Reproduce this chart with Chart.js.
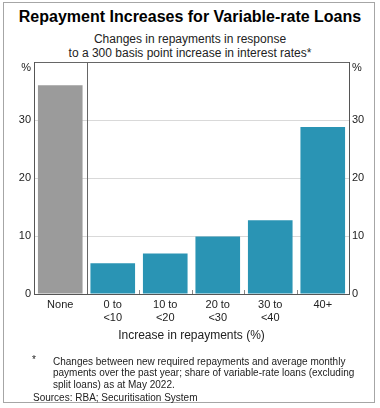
<!DOCTYPE html>
<html>
<head>
<meta charset="utf-8">
<script src="https://cdn.jsdelivr.net/npm/chart.js@4"></script>
<style>
  html, body { margin:0; padding:0; background:#fff; }
  body { width:380px; height:408px; position:relative; overflow:hidden; font-family:"Liberation Sans", Arial, sans-serif; }
  #frame { position:absolute; left:3px; top:2px; width:370px; height:399px; border:1px solid #a6a6a6; }
  canvas { position:absolute; left:0; top:0; }
  .t { position:absolute; left:0; width:380px; text-align:center; white-space:nowrap; }
  #title { top:8px; font-size:16px; font-weight:bold; color:#000; }
  #sub1 { top:32px; font-size:12px; color:#222; }
  #sub2 { top:46px; font-size:12px; color:#222; }
  .fn { position:absolute; font-size:10px; color:#222; white-space:nowrap; line-height:11.3px; }
</style>
</head>
<body>
<div id="frame"></div>
<div class="t" id="title">Repayment Increases for Variable-rate Loans</div>
<div class="t" id="sub1">Changes in repayments in response</div>
<div class="t" id="sub2">to a 300 basis point increase in interest rates*</div>
<canvas id="c" width="380" height="408"></canvas>
<div class="fn" style="left:32px; top:354px;">*</div>
<div class="fn" style="left:53px; top:356px;">Changes between new required repayments and average monthly<br>payments over the past year; share of variable-rate loans (excluding<br>split loans) as at May 2022.</div>
<div class="fn" style="left:33px; top:392px;">Sources: RBA; Securitisation System</div>
<script>
const categories = [["None"], ["0 to", "<10"], ["10 to", "<20"], ["20 to", "<30"], ["30 to", "<40"], ["40+"]];
const shares = [36.0, 5.3, 7.0, 9.9, 12.7, 28.8];
const barColors = ["#9b9b9b", "#2a94b4", "#2a94b4", "#2a94b4", "#2a94b4", "#2a94b4"];
const yTicks = [0, 10, 20, 30, 40];
const xTitle = "Increase in repayments (%)";
const unitLabel = "%";

const FONT = '"Liberation Sans", Arial, sans-serif';

const decor = {
  id: 'decor',
  afterDatasetsDraw(chart) {
    const ctx = chart.ctx, x = chart.scales.x, a = chart.chartArea;
    ctx.save();
    for (let i = 1; i < categories.length; i++) {
      const bx = Math.round((x.getPixelForValue(i - 1) + x.getPixelForValue(i)) / 2) + 0.5;
      ctx.beginPath();
      if (i === 1) {
        ctx.strokeStyle = '#666';
        ctx.moveTo(bx, a.top); ctx.lineTo(bx, a.bottom);
      } else {
        ctx.strokeStyle = '#888';
        ctx.moveTo(bx, a.bottom); ctx.lineTo(bx, a.bottom - 4);
      }
      ctx.lineWidth = 1;
      ctx.stroke();
    }
    ctx.fillStyle = '#222';
    ctx.font = '11px ' + FONT;
    ctx.textBaseline = 'middle';
    ctx.textAlign = 'right';
    ctx.fillText(unitLabel, a.left - 3, a.top + 6);
    ctx.textAlign = 'left';
    ctx.fillText(unitLabel, a.right + 3, a.top + 6);
    ctx.restore();
  }
};

new Chart(document.getElementById('c'), {
  type: 'bar',
  data: {
    labels: categories,
    datasets: [{
      data: shares,
      backgroundColor: barColors,
      borderWidth: 0,
      categoryPercentage: 1.0,
      barPercentage: 0.85
    }]
  },
  options: {
    responsive: false,
    animation: false,
    devicePixelRatio: 1,
    layout: { padding: { top: 62, left: 0, right: 0, bottom: 62 } },
    plugins: { legend: { display: false }, tooltip: { enabled: false }, title: { display: false } },
    scales: {
      x: {
        grid: { display: false, drawTicks: false },
        border: { display: true, color: '#555', width: 1 },
        ticks: { color: '#222', font: { size: 11, family: FONT }, padding: 4, maxRotation: 0, autoSkip: false },
        title: { display: true, text: xTitle, color: '#222', font: { size: 12, family: FONT }, padding: { top: 0, bottom: 3 } },
        afterFit(s) { s.height = 52; }
      },
      y: {
        position: 'left',
        min: 0, max: 40,
        afterBuildTicks(s) { s.ticks = yTicks.map(v => ({ value: v })); },
        grid: {
          drawTicks: false,
          color: c => c.tick && c.tick.value === 40 ? '#666' : (c.tick && c.tick.value === 0 ? 'rgba(0,0,0,0)' : '#d9d9d9'),
          lineWidth: 1
        },
        border: { display: true, color: '#555', width: 1 },
        ticks: { color: '#222', font: { size: 11, family: FONT }, padding: 3, callback: v => v === 40 ? '' : v },
        afterFit(s) { s.width = 34; }
      },
      y2: {
        position: 'right',
        min: 0, max: 40,
        afterBuildTicks(s) { s.ticks = yTicks.map(v => ({ value: v })); },
        grid: { display: false, drawTicks: false },
        border: { display: true, color: '#555', width: 1 },
        ticks: { color: '#222', font: { size: 11, family: FONT }, padding: 3, callback: v => v === 40 ? '' : v },
        afterFit(s) { s.width = 31; }
      }
    }
  },
  plugins: [decor]
});
</script>
</body>
</html>
